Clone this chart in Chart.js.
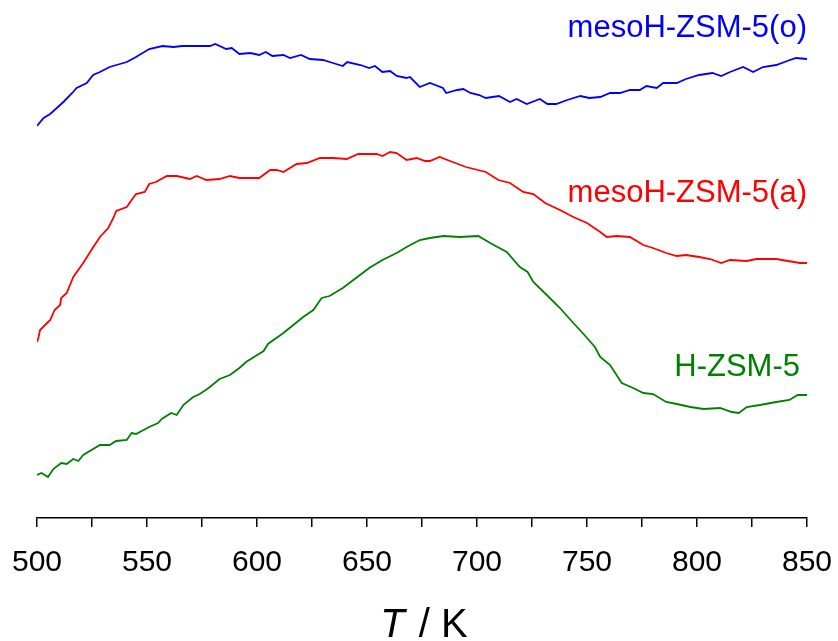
<!DOCTYPE html>
<html>
<head>
<meta charset="utf-8">
<script src="https://cdn.jsdelivr.net/npm/chart.js@4/dist/chart.umd.min.js"></script>
<style>
  html, body { margin: 0; padding: 0; background: #fff; }
  #wrap { width: 838px; height: 641px; }
</style>
</head>
<body>
<div id="wrap"><canvas id="c" width="838" height="641"></canvas></div>
<script>
// Temperature (K) readings and signal (arbitrary units) for each sample
const blueT = [500,503,506,512,516,518,522.6,525.5,528.6,533,537.7,540.8,545,551,557,562,566,569.5,578.6,581,586,588.5,592,597,601,604,607,612,615,620,624,630,634.5,639,641,647,651,653.6,657,660.5,663.5,668,669.5,674,678.6,684.5,686,691,693.8,697,701,704,710,715,718,722.6,728.6,732,736,741,747,751,756,760.5,765,769.5,774,777,781.7,784.6,790.8,795,801,807,811,815,821,825.5,830,836,841,845,850];
const blueY = [392,400,404,416,425,430,435,443,446,451,454,456,461,469,472,471,472,472,472,474,469,470,464,465,463,466,462,463,460,463,459,458,455,452,456,453,450,452,446,447,442,440,441,431,435,430,425,428,429,425,423,420,422,416,419,414,419,414,414,418,422,420,421,425,425,428,428,432,430,435,435,439,443,445,442,446,451,446,451,453,457,460,459];

const redT = [500,500.6,501.4,506,508,510.5,511,513.5,516.5,521,525.6,528.6,532.4,534.7,536,540.8,543,545,549,551,554,559,563.5,569.5,572.6,577,583,587.7,592,601,606,609,612,618,622.6,628.6,634.7,640.8,646,650,654.4,657,660.5,663.5,668,672.6,676.4,678.6,683,687.7,695,704,709.7,715,721,725.6,731,737.7,743.8,750,756,759,763.5,769.5,775.6,780,786,790.8,795,801,806,811,815,822.6,827,836,846.8,850];
const redY = [176,180,188,198,208,213,220,225,241,255,271,281,290,300,307,311,318,324,326,334,336,342,342,339,342,338,339,342,340,340,348,348,346,354,355,360,360,359,364,364,364,362,366,365,358,360,357,357,361,357,351,346,338,335,326,324,315,308,301,295,286,281,282,281,273,270,265,262,263,261,259,255,258,257,259,259,255,255];

const greenT = [500,502,505,507.4,511,513.5,516.5,518.8,521,528.6,533,536,540.8,543,545,551,555,556.7,561,563.5,566.5,571,574,578,583,587.7,592,595,603,605,612,616.5,621,625.6,629.4,633,639,645,651,657,663.5,668,674,678.6,684.7,692,700.6,706,713.5,719.5,723,725.6,731.7,737.7,743.8,748,753.6,756,760.5,765.8,771,775.6,780,786,790.8,797,803,810.5,815.8,819,822.6,828.6,836,842,845.8,850];
const greenY = [43,45,41,49,55,54,59,57,63,73,73,77,78,85,84,91,95,99,105,103,113,121,124,130,139,143,150,156,167,174,185,193,201,208,220,222,230,240,250,258,265,271,278,280,282,281,282,275,266,251,246,236,223,210,195,185,171,161,153,135,130,125,124,116,114,111,109,110,106,105,111,113,116,118,123,123];

const seriesNames = ['mesoH-ZSM-5(o)', 'mesoH-ZSM-5(a)', 'H-ZSM-5'];
const seriesColors = ['#0000ff', '#ff0000', '#008000'];
const xMin = 500, xMax = 850, xStep = 25, labelStep = 50;
const axisTitleItalic = 'T';
const axisTitleRest = ' / K';

function pts(t, y) { return t.map((v, i) => ({ x: v, y: y[i] })); }

const labelPlugin = {
  id: 'labels',
  afterDraw(chart) {
    const ctx = chart.ctx;
    const ca = chart.chartArea;
    ctx.save();
    ctx.font = '31px "Liberation Sans", Arial, sans-serif';
    ctx.textAlign = 'right';
    ctx.textBaseline = 'alphabetic';
    const pos = [[ca.right, 37], [ca.right, 202], [ca.right - 7, 376]];
    seriesNames.forEach((n, i) => {
      ctx.fillStyle = seriesColors[i];
      ctx.fillText(n, pos[i][0], pos[i][1]);
    });
    const fItal = 'italic 40px "Liberation Sans", Arial, sans-serif';
    const fNorm = '40px "Liberation Sans", Arial, sans-serif';
    ctx.font = fItal; const w1 = ctx.measureText(axisTitleItalic).width;
    ctx.font = fNorm; const w2 = ctx.measureText(axisTitleRest).width;
    const cx = (ca.left + ca.right) / 2 + 2;
    const x0 = cx - (w1 + w2 + 3) / 2;
    const base = 637;
    ctx.textAlign = 'left';
    ctx.fillStyle = '#000';
    ctx.font = fItal; ctx.fillText(axisTitleItalic, x0, base);
    ctx.font = fNorm; ctx.fillText(axisTitleRest, x0 + w1 + 3, base);
    ctx.restore();
  }
};

new Chart(document.getElementById('c'), {
  type: 'line',
  data: {
    datasets: [
      { label: seriesNames[0], data: pts(blueT, blueY), borderColor: seriesColors[0] },
      { label: seriesNames[1], data: pts(redT, redY), borderColor: seriesColors[1] },
      { label: seriesNames[2], data: pts(greenT, greenY), borderColor: seriesColors[2] }
    ]
  },
  options: {
    responsive: false,
    animation: false,
    devicePixelRatio: 1,
    elements: {
      line: { borderWidth: 1.8, tension: 0 },
      point: { radius: 0 }
    },
    layout: { autoPadding: false, padding: { left: 37, right: 31, top: 10, bottom: 42 } },
    plugins: { legend: { display: false }, tooltip: { enabled: false } },
    scales: {
      x: {
        type: 'linear',
        min: xMin, max: xMax,
        border: { display: true, color: '#000', width: 1.5 },
        grid: { display: true, drawOnChartArea: false, drawTicks: true, tickLength: 9, color: '#000', lineWidth: 1.5 },
        ticks: {
          stepSize: xStep,
          autoSkip: false,
          maxRotation: 0,
          padding: 0,
          color: '#000',
          font: { family: '"Liberation Sans", Arial, sans-serif', size: 30, lineHeight: 2.4 },
          callback: (v) => (v % labelStep === 0 ? String(v) : '')
        }
      },
      y: { display: false, min: 0, max: 508 }
    }
  },
  plugins: [labelPlugin]
});
</script>
</body>
</html>
